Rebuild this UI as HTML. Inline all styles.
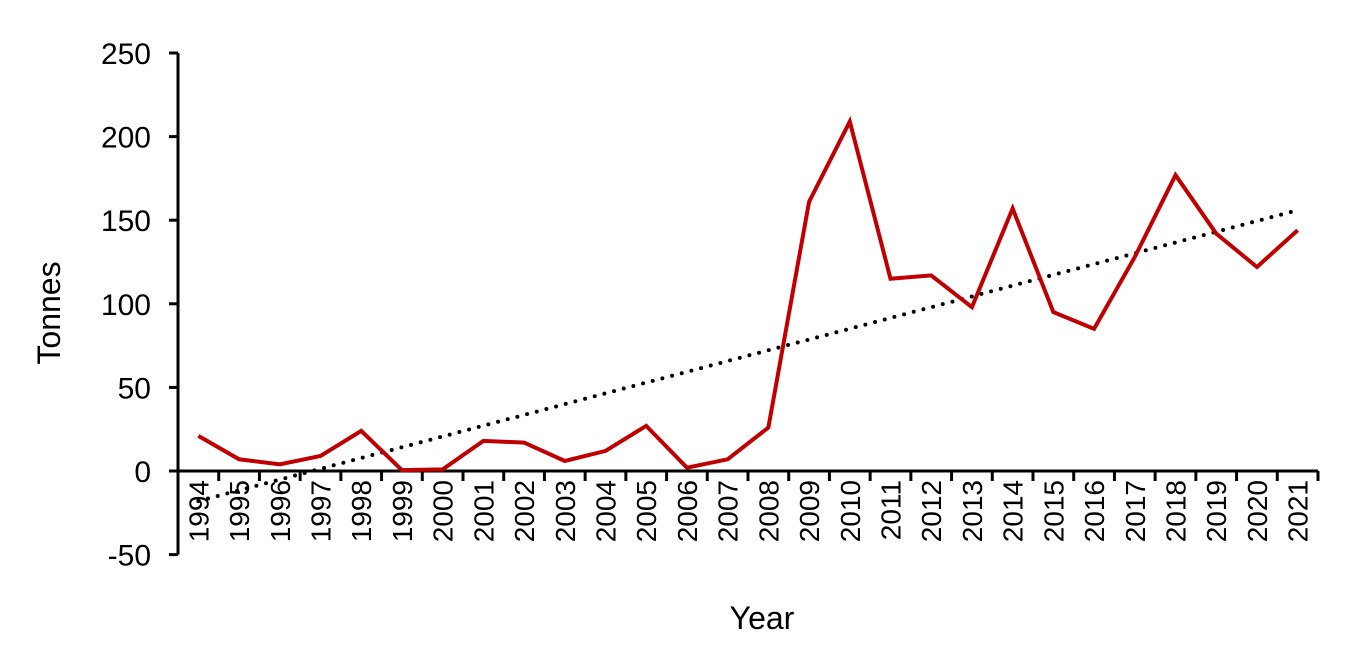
<!DOCTYPE html>
<html><head><meta charset="utf-8"><style>
body{margin:0;background:#fff;}
svg text{font-family:"Liberation Sans",Arial,sans-serif;fill:#000;}
</style></head><body>
<svg width="1352" height="660" id="c">
<text x="60" y="313" font-size="32" text-anchor="middle" transform="rotate(-90 60 313)">Tonnes</text>
<text x="762" y="629" font-size="32" text-anchor="middle">Year</text>
</svg>
<script>
const years=[1994,1995,1996,1997,1998,1999,2000,2001,2002,2003,2004,2005,2006,2007,2008,2009,2010,2011,2012,2013,2014,2015,2016,2017,2018,2019,2020,2021];
const tonnes=[21,7,4,9,24,0.5,1,18,17,6,12,27,2,7,26,161,209,115,117,98,157,95,85,128,177,142,122,144];
const yTicks=[-50,0,50,100,150,200,250];
const svg=document.getElementById('c');
const NS='http://www.w3.org/2000/svg';
const x0=178,x1=1318,yTop=53,yZero=471;
const cw=(x1-x0)/years.length;
function xs(i){return x0+cw*(i+0.5);}
function ys(v){return yZero-(v/250)*(yZero-yTop);}
function mk(t,a){const e=document.createElementNS(NS,t);for(const k in a)e.setAttribute(k,a[k]);svg.appendChild(e);return e;}
let ya=mk('line',{x1:x0,y1:ys(250),x2:x0,y2:ys(-50),stroke:'#000','stroke-width':3});


yTicks.forEach(v=>{
 const t=mk('line',{x1:x0-9,y1:ys(v),x2:x0,y2:ys(v),stroke:'#000','stroke-width':3});
 
 
 const l=mk('text',{x:151,y:ys(v)+11,'font-size':30,'text-anchor':'end'});
 l.textContent=v;
 
 
});
let xa=mk('line',{x1:x0,y1:yZero,x2:x1,y2:yZero,stroke:'#000','stroke-width':3});


years.forEach((y,i)=>{
 const tx=x0+cw*(i+1);
 const t=mk('line',{x1:tx,y1:yZero,x2:tx,y2:yZero+10,stroke:'#000','stroke-width':3});
 
 
 const cx=xs(i)+10;
 const l=mk('text',{x:cx,y:480,'font-size':28,'text-anchor':'end',transform:`rotate(-90 ${cx} 480)`});
 l.textContent=y;
 
 
});
const n=tonnes.length;let sx=0,sy=0,sxy=0,sxx=0;
tonnes.forEach((v,i)=>{sx+=i;sy+=v;sxy+=i*v;sxx+=i*i;});
const b=(n*sxy-sx*sy)/(n*sxx-sx*sx),a=(sy-b*sx)/n;
const tr=mk('line',{x1:xs(0),y1:ys(a),x2:xs(n-1),y2:ys(a+b*(n-1)),stroke:'#000','stroke-width':4,'stroke-dasharray':'0 10','stroke-linecap':'round'});


const pl=mk('polyline',{points:tonnes.map((v,i)=>xs(i)+','+ys(v)).join(' '),fill:'none',stroke:'#c00000','stroke-width':4,'stroke-linejoin':'miter'});


</script>
</body></html>
